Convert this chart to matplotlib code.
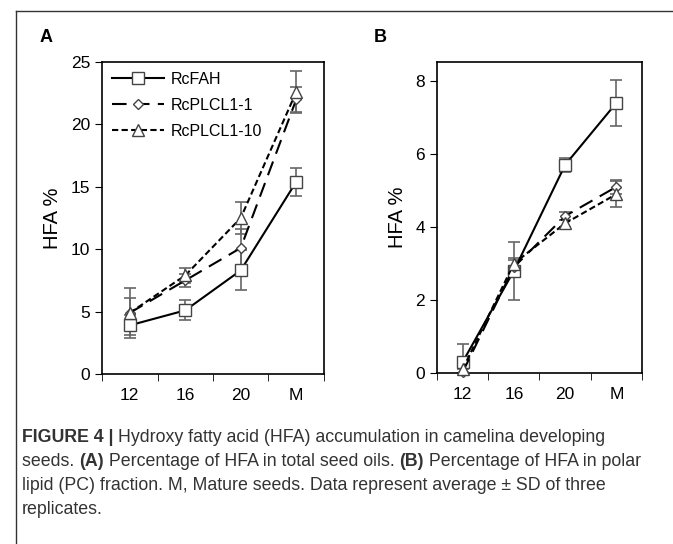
import matplotlib.pyplot as plt
from matplotlib.lines import Line2D
import numpy as np

plt.rcParams['font.family'] = ['Liberation Sans', 'DejaVu Sans']

stages = ['12', '16', '20', 'M']
series = ['RcFAH', 'RcPLCL1-1', 'RcPLCL1-10']

# Panel A: HFA % in total seed oils
a_mean = {'RcFAH': [3.9, 5.1, 8.3, 15.4],
          'RcPLCL1-1': [4.9, 7.5, 10.1, 22.0],
          'RcPLCL1-10': [4.9, 7.9, 12.5, 22.6]}
a_sd = {'RcFAH': [0.8, 0.8, 1.6, 1.1],
        'RcPLCL1-1': [1.2, 0.5, 1.5, 1.0],
        'RcPLCL1-10': [2.0, 0.6, 1.3, 1.7]}

# Panel B: HFA % in polar lipid (PC) fraction
b_mean = {'RcFAH': [0.3, 2.8, 5.7, 7.4],
          'RcPLCL1-1': [0.02, 2.9, 4.3, 5.1],
          'RcPLCL1-10': [0.1, 3.0, 4.1, 4.9]}
b_sd = {'RcFAH': [0.5, 0.8, 0.2, 0.63],
        'RcPLCL1-1': [0.1, 0.2, 0.1, 0.2],
        'RcPLCL1-10': [0.1, 0.15, 0.1, 0.35]}

styles = {'RcFAH': dict(ls='-', marker='s', ms=9),
          'RcPLCL1-1': dict(ls=(0, (7, 4)), marker='D', ms=5.5),
          'RcPLCL1-10': dict(ls=(0, (3, 1.6)), marker='^', ms=8)}

fig = plt.figure(figsize=(6.73, 5.44), dpi=100)
axA = fig.add_axes([0.1516, 0.3125, 0.3298, 0.5735])
axB = fig.add_axes([0.6493, 0.3143, 0.3046, 0.5717])

x = np.arange(len(stages))


def draw(ax, means, sds):
    for s in series:
        st = styles[s]
        ax.errorbar(x, means[s], yerr=sds[s], fmt='none', ecolor='#666666',
                    elinewidth=1.2, capsize=4, capthick=1.2, zorder=2)
        ax.plot(x, means[s], color='black', lw=1.5, ls=st['ls'],
                marker=st['marker'], ms=st['ms'], mfc='white',
                mec='#444444', mew=1.0, label=s, zorder=3, clip_on=False)
    ax.set_xlim(-0.5, 3.5)
    ax.set_xticks(x)
    ax.set_xticklabels(stages)
    ax.set_xticks(np.arange(-0.5, 4, 1), minor=True)
    ax.tick_params(axis='x', which='major', length=0, pad=10, labelsize=12.5)
    ax.tick_params(axis='x', which='minor', length=5, direction='out')
    ax.tick_params(axis='y', length=5, direction='out', labelsize=12.5)
    ax.set_ylabel('HFA %', fontsize=14.5, labelpad=6)
    for sp in ax.spines.values():
        sp.set_linewidth(1.2)


draw(axA, a_mean, a_sd)
axA.set_ylim(0, 25)
axA.set_yticks([0, 5, 10, 15, 20, 25])
axA.legend(loc='upper left', frameon=False, fontsize=11.5, handlelength=3.3,
           handletextpad=0.4, borderaxespad=0.2, labelspacing=0.7)

draw(axB, b_mean, b_sd)
axB.set_ylim(0, 8.52)
axB.set_yticks([0, 2, 4, 6, 8])

fig.text(40 / 673, 1 - 37 / 544, 'A', fontsize=13, fontweight='bold', va='center', ha='left')
fig.text(374 / 673, 1 - 37 / 544, 'B', fontsize=13, fontweight='bold', va='center', ha='left')

# frame lines of the figure box
fig.add_artist(Line2D([16 / 673, 16 / 673], [1 - 11 / 544, 0], color='#333333', lw=1.0))
fig.add_artist(Line2D([16 / 673, 1], [1 - 11 / 544, 1 - 11 / 544], color='#333333', lw=1.0))

# caption
cap_font = ['Liberation Sans', 'DejaVu Sans']
lines = [
    [('FIGURE 4 | ', 'bold'), ('Hydroxy fatty acid (HFA) accumulation in camelina developing', 'normal')],
    [('seeds. ', 'normal'), ('(A)', 'bold'), (' Percentage of HFA in total seed oils. ', 'normal'),
     ('(B)', 'bold'), (' Percentage of HFA in polar', 'normal')],
    [('lipid (PC) fraction. M, Mature seeds. Data represent average \u00b1 SD of three', 'normal')],
    [('replicates.', 'normal')],
]
renderer = fig.canvas.get_renderer()
y0 = 437
for i, parts in enumerate(lines):
    xpos = 22 / 673
    ypos = 1 - (y0 + 24 * i) / 544
    for txt, w in parts:
        t = fig.text(xpos, ypos, txt, fontsize=12.8, fontweight=w, family=cap_font,
                     color='#333333', va='center', ha='left')
        bb = t.get_window_extent(renderer=renderer)
        xpos += bb.width / fig.bbox.width

fig.savefig('out.png', dpi=100)
